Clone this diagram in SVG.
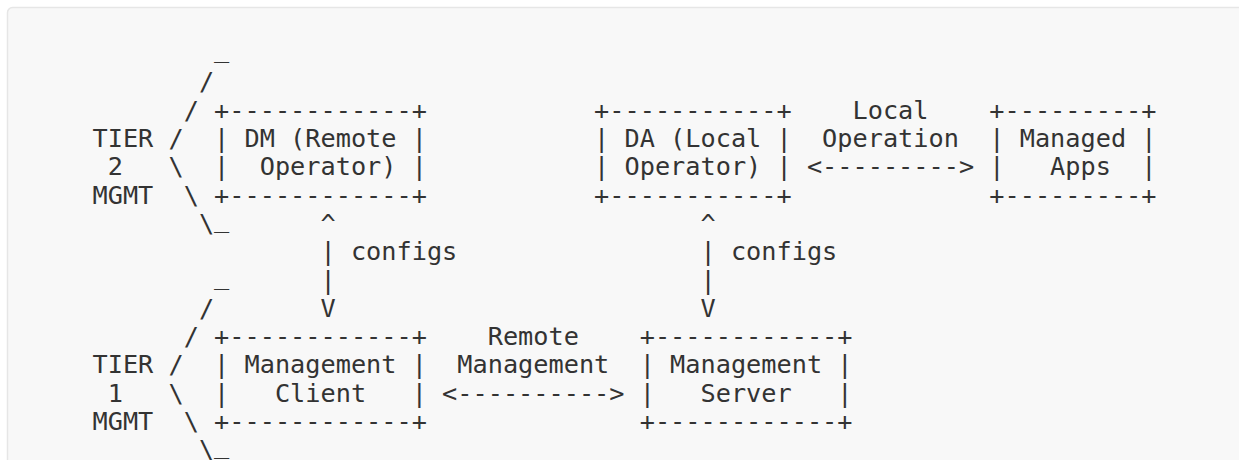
<svg xmlns="http://www.w3.org/2000/svg" width="1239" height="460" viewBox="0 0 1239 460">
<style>
text{font-family:"DejaVu Sans Mono","Liberation Mono",monospace;font-size:25.25px;fill:#333;white-space:pre}
</style>
<rect x="0" y="0" width="1239" height="460" fill="#ffffff"/>
<rect x="7.5" y="7.5" width="1250" height="470" rx="5" fill="#f8f8f8" stroke="#e6e6e6" stroke-width="1.5"/>
<g id="tier2" xml:space="preserve">
<text x="214.1" y="57">_</text>
<text x="198.9" y="90.4">/</text>
<text x="183.7" y="118.7">/</text>
<text x="92.5" y="147">TIER /</text>
<text x="92.5" y="175.3"> 2   \</text>
<text x="92.5" y="203.6">MGMT  \</text>
<text x="198.9" y="231.9">\</text>
<text x="214.1" y="226.9">_</text>
</g>
<g id="dm" xml:space="preserve">
<text x="214.1" y="118.7">+------------+</text>
<text x="214.1" y="147">| DM (Remote |</text>
<text x="214.1" y="175.3">|  Operator) |</text>
<text x="214.1" y="203.6">+------------+</text>
</g>
<g id="da" xml:space="preserve">
<text x="594.1" y="118.7">+-----------+</text>
<text x="594.1" y="147">| DA (Local |</text>
<text x="594.1" y="175.3">| Operator) |</text>
<text x="594.1" y="203.6">+-----------+</text>
</g>
<g id="apps" xml:space="preserve">
<text x="989.3" y="118.7">+---------+</text>
<text x="989.3" y="147">| Managed |</text>
<text x="989.3" y="175.3">|   Apps  |</text>
<text x="989.3" y="203.6">+---------+</text>
</g>
<g id="tier1" xml:space="preserve">
<text x="214.1" y="283.5">_</text>
<text x="198.9" y="316.8">/</text>
<text x="183.7" y="345.1">/</text>
<text x="92.5" y="373.4">TIER /</text>
<text x="92.5" y="401.7"> 1   \</text>
<text x="92.5" y="430">MGMT  \</text>
<text x="198.9" y="458.3">\</text>
<text x="214.1" y="453.3">_</text>
</g>
<g id="client" xml:space="preserve">
<text x="214.1" y="345.1">+------------+</text>
<text x="214.1" y="373.4">| Management |</text>
<text x="214.1" y="401.7">|   Client   |</text>
<text x="214.1" y="430">+------------+</text>
</g>
<g id="server" xml:space="preserve">
<text x="639.7" y="345.1">+------------+</text>
<text x="639.7" y="373.4">| Management |</text>
<text x="639.7" y="401.7">|   Server   |</text>
<text x="639.7" y="430">+------------+</text>
</g>
<g id="connectors" xml:space="preserve">
<text x="852.5" y="118.7">Local</text>
<text x="822.1" y="147">Operation</text>
<text x="806.9" y="175.3">&lt;---------&gt;</text>
<text x="320.5" y="231.9">^</text>
<text x="320.5" y="260.2">| configs</text>
<text x="320.5" y="288.5">|</text>
<text x="320.5" y="316.8">V</text>
<text x="700.5" y="231.9">^</text>
<text x="700.5" y="260.2">| configs</text>
<text x="700.5" y="288.5">|</text>
<text x="700.5" y="316.8">V</text>
<text x="487.7" y="345.1">Remote</text>
<text x="457.3" y="373.4">Management</text>
<text x="442.1" y="401.7">&lt;----------&gt;</text>
</g>
</svg>
